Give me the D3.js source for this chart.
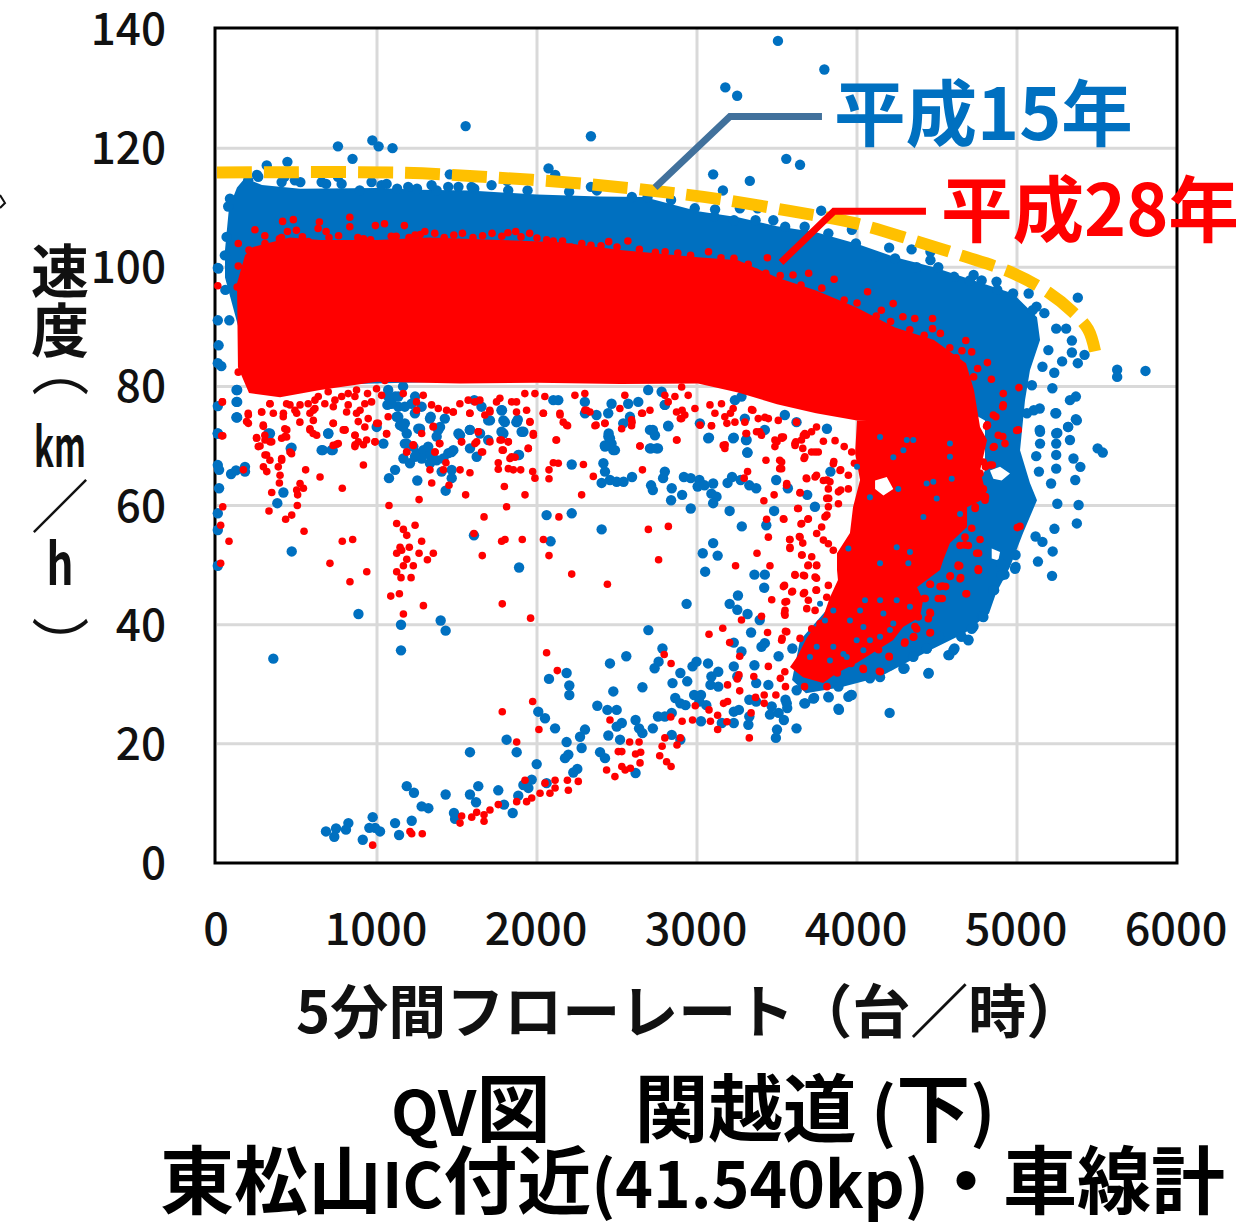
<!DOCTYPE html>
<html>
<head>
<meta charset="utf-8">
<script src="https://cdn.jsdelivr.net/npm/d3@7/dist/d3.min.js"></script>
<style>
  html, body { margin: 0; padding: 0; background: #fff; }
  svg { display: block; }
  text { font-family: "Noto Sans CJK JP", "Noto Sans", sans-serif; }
</style>
</head>
<body>
<div id="chart"></div>
<script>
  var xTicks = [0, 1000, 2000, 3000, 4000, 5000, 6000];
  var yTicks = [0, 20, 40, 60, 80, 100, 120, 140];
  var xTitle = "5分間フローレート（台／時）";
  var label15 = "平成15年";
  var label28 = "平成28年";

  // y title is set by hand, one piece under the other
  var yTitleParts = [
    {t: "速", x: 60, y: 293, size: 58, w: 700},
    {t: "度", x: 60, y: 352, size: 58, w: 700},
    {t: "（", x: 38, y: 368, size: 58, w: 400, turn: true},
    {t: "km", x: 60, y: 467, size: 55, w: 700, len: 52},
    {t: "／", x: 60, y: 528, size: 58, w: 400},
    {t: "h", x: 60, y: 585, size: 58, w: 700, len: 27},
    {t: "）", x: 38, y: 645, size: 58, w: 400, turn: true}
  ];

  // chart title runs, kanji set larger than the latin
  var titleLine1 = [["QV", 62], ["図", 74], ["　", 84], ["関越道", 74], [" (", 66], ["下", 74], [")", 66]];
  var titleLine2 = [["東松山", 74], ["IC", 62], ["付近", 74], ["(41.540kp)", 64], ["・車線計", 74]];

  // dashed limit curve (flow, speed)
  var limitCurve = [[0,115.9],[1112,115.9],[1606,115.3],[2344,113.9],[2806,112.6],[3150,111.4],[3569,109.5],[3988,107.4],[4356,104.5],[4650,102],[4975,99],[5194,95.8],[5344,92.6],[5444,89.6],[5488,85.9]];

  var callout15 = [[2738,113.4],[3206,125.3],[3781,125.3]];
  var callout28 = [[3525,100.8],[3856,109.4],[4431,109.4]];

  // solid part of the 2003 cloud, read as an outline
  var blueCloud = [[75,110],[125,113.4],[175,115],[281,113.8],[519,113.2],[1000,113.3],[1269,113],[1581,112.9],[2000,112.2],[2394,111.9],[2669,111.8],[3006,109.4],[3256,108.4],[3500,106.9],[3744,105.9],[3994,104],[4238,101.7],[4481,100],[4731,97.8],[4975,95.6],[5125,91.6],[5144,87.8],[5081,82.7],[5050,77.7],[5019,69.3],[5081,63.8],[5125,60.9],[5038,55.4],[4956,49.7],[4869,45.3],[4825,41.9],[4675,38.6],[4456,35.7],[4138,31.2],[3900,29.5],[3681,28.5],[3594,30.7],[3644,37.4],[4081,50.8],[4581,55.9],[4800,65.9],[4800,74.3],[4519,78.5],[3019,81],[1769,81],[519,80.2],[206,82.7],[100,93.3],[50,98.3],[50,102.9]];
  var blueHoleA = [[4831,65.9],[4894,66.5],[4956,65.4],[4904,64.2],[4852,64.5]];
  var blueHoleB = [[4842,52.8],[4894,52.2],[4883,50.8],[4842,51.1]];

  // solid parts of the 2016 cloud
  var redCloud = [[125,97.3],[175,102],[225,103.4],[456,105],[644,104.6],[1000,104.6],[1331,105],[1769,104.6],[2144,104.2],[2519,102.9],[3006,101.7],[3256,101.2],[3500,98.3],[3744,96.1],[3994,93.3],[4238,89.9],[4481,87.8],[4681,83.9],[4731,79.4],[4769,73.2],[4000,74.3],[3744,75.5],[3500,77],[3256,79],[3006,80.5],[2519,80.4],[2000,80.6],[1519,80.5],[1000,80.8],[644,79.4],[394,78.2],[200,78.9],[131,83.2]];
  var redCrescent = [[4000,74.3],[3988,68.8],[4019,64.3],[3975,59.7],[3956,55.4],[3875,52],[3875,49.2],[3881,47.5],[3831,44.6],[3788,41.3],[3688,37.9],[3625,34.6],[3581,32.9],[3663,31.2],[3788,30.2],[3875,31.9],[4000,33.6],[4125,35.7],[4225,37.4],[4288,39.6],[4394,41.3],[4413,44.1],[4375,46.3],[4519,49.2],[4538,50.8],[4581,53.7],[4688,56.4],[4688,59.7],[4813,61.4],[4769,65.9],[4813,71],[4769,73.2],[4688,74.3]];
  var redHole = [[4113,64.2],[4186,64.8],[4227,62.8],[4165,61.7],[4113,62.8]];

  var bluePoints = [
    [467,52.3],[352,34.3],[884,41.8],[1150,40],[1398,40.7],[1429,39],[1150,35.7],[1606,55],[2085,54],[2060,58.4],[2217,58.7],[2404,56],[1888,49.6],[2456,33.5],[2075,30.9],[2185,31.9],[2202,29.8],[2202,28.2],[2477,28.8],[2377,26.4],[2440,25.7],[2498,25.7],[2008,25.4],[2050,24.3],[2113,22.6],[2300,22.4],[2269,21.2],[2446,21.4],[2498,22.9],[2185,20.3],[1810,20.7],[1873,18.6],[1581,18.6],[2279,19.3],[2196,18.2],[2175,17.6],[1998,16.6],[2394,18.6],[2425,17.6],[2252,15.8],[2227,15.2],[1186,12.9],[1231,11.8],[1429,11.5],[1279,9.5],[1321,9.2],[1633,12.9],[1581,11.5],[1619,10.2],[1758,12.2],[1794,9.8],[1848,8.4],[1481,8.4],[1488,7.4],[1915,13.1],[1967,14],[1946,12.6],[1883,11.3],[2060,13.4],[681,5.3],[744,5.8],[733,4.4],[821,6.7],[806,5.6],[973,7.7],[952,5.9],[988,5.9],[1019,5.3],[911,3.9],[1113,6.7],[1138,4.7],[1217,7.1],
    [415,62.2],[377,60.4],[5,58.7],[5,55.9],[5,49.9],[13,62.9],[5,66.8],[13,66],[88,65.3],[119,65.9],[175,66.5],[175,65.7],[1252,64.2],[1429,62.5],
    [1165,67.9],[1206,67.1],[1248,68.8],[1290,69.3],[1331,68.5],[1373,67.6],[1415,67.9],[1446,68.8],[1477,69.3],[1227,69.9],[1186,70.4],[1279,67.9],[1331,67.1],[1113,66],[1075,64.6],[1404,65.7],[1467,66],[1467,64.6],[1144,73.5],[1186,72.1],[1269,72.9],[1373,71.6],[1394,73.2],[1519,71.8],[1581,72.7],[1644,72.1],[1706,74.3],[1790,72.1],[1873,74],[1915,72.4],[1790,74.3],[2217,66.9],[1888,68.5],[1623,68.2],[1581,69.6],[696,72.1],[661,69.3],[723,69.3],[461,69.6],[321,72.1],[123,74.8],[5,72.1],[1040,70.4],[998,73.2],[1123,74.9],[2466,70.4],[2425,69.9],[2477,69.3],[2415,67.1],[2425,65.7],[2456,64.3],[2404,63.8],[2498,64],[2446,71.6],
    [1114,78.3],[1163,80],[1238,78.3],[1065,76.9],[1163,73.2],[1336,74.9],[1509,72.1],[1608,77.7],[1781,76],[1880,74.4],[2102,77.7],[2300,75.5],[2448,72.1],
    [756,120.3],[971,121.3],[1010,120.3],[1097,120],[847,118.2],[1554,123.7],[2337,122],[311,117.1],[440,117.7],[756,115.2],[1455,115.6],[2072,116.6],[2114,115.5],[1813,114.5],[2337,113.5],
    [250,115.5],[422,115.2],[521,114.3],[682,114],[892,112.9],[1028,113.8],[1126,113.2],[1250,113.2],[1373,112.9],[1509,113.5],[1608,113.2],[1941,112.9],[2201,112.7],[2374,112.9],
    [5,99.9],[5,91.1],[10,86.9],[5,83.9],[27,83.4],[77,91.1],[52,96.2],[126,79.4],[126,77.4],[126,74.8],[5,76.7],[5,72.1],
    [3506,138],[3796,133.2],[3177,130.2],[3251,128.8],[3558,118.2],[3644,117.2],[3101,115.6],[3330,114.5],[3162,112.9],[3113,109.7],[3268,109.9],[3379,109.9],[3477,107.9],[3776,109.5],[3968,106.3],[4201,103.3],[4341,103],[4459,102.6],[4459,101.2],[4508,100],[4729,98.7],[4779,97.8],[4872,97.6],[5073,95.6],[5380,94.9],[5122,93.4],[5171,92.3],[5245,89.7],[5307,89.7],[5343,87.7],[5196,86.1],[5343,85.7],[5422,85.3],[5282,84.2],[5380,83.9],[5159,83.3],[5233,82.3],[5221,79.7],[5093,80.2],[5368,78.3],[5331,77.7],[5240,75.5],[5368,74.5],[5319,73.2],[5142,76.3],[5142,72.7],[5626,82.8],[5626,81.6],[5803,82.6],[5245,72.1],
    [5504,69.6],[5536,68.9],[5374,74.3],[5245,75.5],[5320,73.2],[5144,72.4],[5252,72.2],[5144,70.4],[5245,70.4],[5331,71],[5245,68.5],[5120,68.3],[5353,67.9],[5396,66.5],[5245,66.2],[5137,65.7],[5364,64.3],[5213,63.7],[5252,60.3],[5385,60.1],[5374,57],[5234,56.1],[5116,54.8],[5159,53.9],[5223,52.3],[5131,50.6],[5219,48.2],[4991,49.7],[4991,51.7],
    [4204,25.2],[4448,31.9],[3887,25.7],[3963,28.2],[3823,27.8],[3622,22.6],[3493,21],[3676,26.8],[3732,27.7],[4577,34.9],[4609,36],[4696,37.5],[4652,38],[4437,36],[4351,34.7],[4297,32.7],[4782,41.4],[4728,39.7],[4512,38],[4857,45.8],[4922,48.4],[4900,50.3],
    [2696,39.1],[2558,34.7],[2784,36],[2659,29.5],[2847,30.2],[2735,32.7],[2760,33.8],[2896,31.9],[2939,30.5],[2972,33],[2997,33.8],[3069,33.5],[3090,31.3],[3133,32.1],[3133,29.6],[3084,29.9],[3230,33],[3252,31.3],[3359,33.2],[3370,30.2],[3446,29.9],[3510,34.7],[3596,36],[3403,36.3],[3424,36.9],[3338,38.7],[3230,37],[3278,35.5],
    [2864,27.7],[2896,26.8],[2928,26.5],[2982,28.2],[3025,28.2],[3015,27.1],[3058,26.5],[2756,24.6],[2799,24.6],[2842,25.2],[2616,24],[2638,22.6],[2659,21.8],[2724,22.6],[3025,23.8],[3155,23.5],[3230,23.5],[3230,25.4],[3262,25.7],[3321,23.2],[3327,24.6],[3327,27.4],[3370,27.1],[3456,24.9],[3467,26.3],[3510,25.2],[3553,27.4],[3564,26],[3543,24],[3500,22.4],[2842,21.5],[2896,20.7],[2530,23.5],[2519,20.7],[2616,15.1],
    [2541,64],[2594,64.8],[2713,63.4],[2724,62.6],[2788,64.6],[2799,65.7],[2842,62.9],[2907,61.8],[2838,60.9],[2918,64.8],[2961,64.6],[3015,64.3],[3004,63.2],[3047,63.4],[3101,63.7],[3090,62],[3122,61.5],[3101,60.4],[2961,59.5],[3204,59.1],[3219,64.8],[3191,63.8],[3273,64.3],[3327,63.4],[3370,62.9],[3495,64.3],[3568,62.9],[3689,61.8],[3737,59.8],[3482,59.1],[3280,56.5],[3433,56.7],
    [3101,53.7],[3036,52],[3129,51.6],[3051,48.9],[3359,48.4],[3424,48.4],[3420,46.2],[3256,44.9],[3204,43.5],[3252,42.5],[3316,41.8],[3392,40.8],[2935,43.5],
    [2724,72.7],[2713,69.6],[2756,69.6],[2821,73.3],[3075,71.4],[3230,71.4],[3306,71],[3316,68.9],[2799,76.9],[3812,72.9],[3834,65.7],[5105,76],[5062,75.5]
  ];

  // blue dots on the outer rim of the cloud and under the main band
  var blueRim = [
    [4988,49.4],[4904,48.3],[4852,45.8],[4790,41.3],[4717,39.3],[4696,37.4],[4654,38],[4602,35.7],[4571,34.9],[4435,36],[4352,34.6],[4290,32.6],[4206,33.2],[4144,31.2],[4081,31],[3884,29.6],[3821,27.9],[3946,27.9],[3967,28.2],[4446,31.8],[3884,25.9],[3671,26.8],[3727,27.6],[3561,26.8],[3623,29],
    [122,79.4],[122,77.4],[122,74.8],[695,72.1],[654,69.3],[716,69.3],[466,69.7],[331,72.1],[1070,78.3],[1133,78.3],[1216,77.1],[1279,76.6],[1133,76.6],[1174,73.8],[1331,74.6],[1424,74.6],[1383,72.7],[1258,72.9],[1174,70.4],[1580,72.7],[1695,74.3],[1778,72.4],[1695,71],[1799,74],[1653,76.6],[1778,76],[1320,69.9],[1466,69],[1237,68.2],[1091,77.1],[1174,76.6],[1070,79.4],[1237,75.5],[1133,74.9],
    [1872,74],[1904,72.4],[2133,77.7],[2299,77.4],[2372,75.2],[2445,75.5],[2466,77.1],[2570,77.1],[2633,77.4],[2581,74.9],[2539,73.8],[2799,76.9],[2820,73.4],[2706,72.7],[2737,71.8],[3070,71.3],[3226,71.3],[3310,71],[3314,68.9],[3299,74.6],[3424,72.7],[3549,75.2],[3622,74],[3018,73.8],[2706,69.6],[2747,69.6],[2456,71.3],[2456,70.1],[2487,69.3],[2424,70.1],[1883,68.5],[3278,78.3],[3237,77.7],[2695,79.4],[2779,79.1],
    [195,114.6],[258,115.2],[404,114.3],[487,114.6],[654,114.3],[779,114],[966,114.3],[1060,114],[1195,113.5],[1341,113.8],[1445,113.5],[1591,113.5],[1716,113.8],[1820,112.9],[70,110.2],[60,105.1],[49,102],[8,99.8],[81,111.5],
    [2593,111.8],[2691,111.8],[2838,111.3],[2986,109.9],[3108,108.5],[3231,107.9],[3366,107.9],[3551,106.8],[3673,106.8],[3821,105.7],[3993,104],[4115,101.8],[4238,101.5],[4373,100],[4607,98.4],[4705,97.8],[4877,96.2],[4975,95.6],[5098,92.8]
  ];

  var redPoints = [
    [973,3],[1206,5.3],[1217,4.9],[1283,4.9],[1519,6.7],[1529,7.9],[1592,7.7],[1623,8.5],[1669,8.1],[1669,7],[1706,8.9],[1758,9.8],[1873,10.3],[1935,10.3],[1967,10.9],[2019,11.7],[2081,11.7],[2113,12.6],[2050,13.4],[1925,13.9],[2113,13.9],[2190,13.9],[2196,12.2],[2258,13.7],[1873,20.3],[2012,22.4],[1783,25.4],[1973,27.1],[2127,32.3],[2060,35.3],[2435,15.6],[2487,14.5],[2508,18.7],[2456,24],
    [1783,43.5],[1960,41.1],[1290,43.2],[1165,41.8],[1086,44.8],[1140,45.2],[831,47.2],[936,48.9],[706,50.3],[1123,48.9],[1150,47.9],[1213,47.9],[1165,49.9],[1227,49.9],[1186,51],[1315,50.9],[1352,52],[1263,52],[1123,52],[1154,52.5],[1202,53],[1144,53],[1279,54],[1186,55],[1165,56],[1123,57],[1238,56.7],[848,54.3],[783,54],[544,55.7],[429,57.7],[467,58.4],[325,59.1],[502,60],[23,50.3],[75,54],[23,56.7],[36,59.8],[1075,60],[1263,61],[783,62.9],[644,64.8],[554,66],
    [1669,58.1],[1810,59.8],[1606,55.3],[1779,54],[1800,54.3],[1908,54.3],[2040,54.3],[1658,51.6],[2075,51.6],[2217,48.5],[2440,46.8],[2137,58.1],[1925,61.8],[1554,61.8],[1796,63.2],[2279,61.8],[1342,63.8],[1450,63.4],[540,62.9],[498,62.6],[519,63.7],[390,63.8],[342,62.2],[504,61.8],[165,66],
    [196,75.2],[196,73.8],[290,73.3],[248,71.3],[300,71],[342,70.7],[269,70],[436,72.7],[425,71.6],[456,69],[300,68.5],[331,67.6],[404,67.6],[290,66.5],[311,65.7],[383,66.5],[394,65.1],[279,75.7],[415,75.5],[498,75.5],[602,74.3],[581,72.7],[623,71.8],[727,73.8],[800,72.7],[748,70.3],[863,71.8],[863,70.2],[915,70.2],[988,70.7],[915,66.8],[1060,72.1],[998,73.8],[602,76],[727,76.6],[894,76],[1186,69],[1227,70.2],[1279,72.1],[1363,69],[1390,70.4],[1431,67.2],[1331,66],[1415,66],[1519,66],[1581,65.5],[1529,70.7],[1352,73.3],[1633,72.4],[1660,69],[1623,70.7],[1706,70.7],[1769,71],[1821,70.7],[1783,69.3],[1758,67.2],[1758,66.1],[1831,67.9],[1863,68.1],[1821,66.2],[1852,66],[1898,66],[1946,69.6],[1977,72.1],[1973,65.7],[1987,64.6],[2075,66],[2075,64.5],[2102,67.2],[2133,67.1],[2290,66.9],[2352,64.9],[2119,71],[2185,73.5],[2144,75.2],[2310,76],[2369,73.5],[2425,73.8],[2040,75.5],[1956,74.1],[1706,75.7],[1581,75.5],[1477,75.7],[1248,76],[36,71.7],[456,76.9],[519,76.9],[331,77.1],
    [5,96.9],[34,77.4],[126,96.7],[133,100.2],[133,104],[200,102.9],[237,106.3],[299,105.3],[410,107.7],[477,108],[440,106],[403,105],[496,106.2],[534,105.1],[571,104.3],[640,107.6],[632,106.5],[682,106],[830,108.4],[830,106.8],[990,107],[1047,107.3],[1171,107],[1089,105.2],[916,104.8],[1238,105.4],[1299,106],[1361,105.7],[1534,105.7],[1719,105.7],[1818,105.8],[1867,106],[1954,105.7],[2102,104.4],[2213,103.4],[2337,103.7],[2448,104.3],
    [2568,104.4],[2801,102.6],[3072,102.6],[3231,101.5],[3440,101.6],[3366,99.2],[3600,98.7],[3698,99],[3857,98],[4066,95.9],[4226,93.9],[4152,92.8],[4287,91.7],[4361,91.4],[4472,91.4],[4472,89.7],[4521,88.9],[4680,87.7],[4656,86],[4717,85.8],[4815,84],[4754,83],[4729,81.6],[4840,81.2],[5012,79.8],[4914,78.8],[4914,76.9],[4852,75.2],[4815,73.5],
    [2696,56],[2821,56.5],[2760,50.9],[2644,70],[2875,71],[2659,66],[3241,49.9],[3375,52],[3456,49.9],[3446,54.7],[3435,57.7],[3543,57.7],[3418,60.8],[3482,61.8],[3629,59.5],[3693,57.7],[3650,56.9],[3295,64.6],[3316,65.7],[3431,67.6],[3517,67.6],[3517,66.2],[3560,63.4],[3644,62.2],[3579,54.3],[3581,53],[3640,54.8],[3661,53.7],[3657,51.7],[3693,49.9],[3747,49.9],[3547,46.6],[3597,45.6],[3612,48.4],[3672,48.2],[3747,47.8],[3747,45.8],[3672,45.4],[3467,44.2],[3560,43.9],[3547,41.9],[3403,41.4],[3278,40.8],[3161,39.4],[3075,38.4],[3204,37],[3441,38.7],[3532,37.7],[3553,38.9],[3267,34.7],[3446,33],[3355,31.3],[3262,31.6],[3252,30.9],[3191,29.9],[3267,28.9],[2795,35],[2838,33.5],[3549,32.1],[3521,31],[3553,29.6],[3493,28.2],[3366,27.8],[3420,28.2],[3420,26.8],[3338,25.2],[3166,26.8],[3191,27.1],[2989,26.4],[3075,25.7],[3129,24.8],[3084,23.8],[3187,23.7],[2972,24],[2907,23.8],[2836,24.5],[3129,22.4],[3327,21],[2799,21],[2896,21],[2782,19.6],[2875,19.8],[2767,18],[2810,17],[2838,16.2],[2638,20.3],[2579,20.3],[2648,18.6],[2616,18.3],[2644,16.8],[2584,15.9],[2530,18.7],[2530,16.2],[2551,15.6],
    [3176,70.2],[3306,72.1],[3392,72.4],[3500,70.7],[3532,71.3],[3618,70.7],[3683,71.8],[3758,69],[3855,67.4],[3898,66],[3812,64.3],[3747,65.1],[3683,64.6],[3823,61.2],[3812,58.4],[3898,62.6],[3984,67.1],[3920,69.9],[3661,69.6],[2659,75.5],[2594,74],[2907,76],[2896,74.6],[3019,73.5],[3090,73.4],[3209,75.5],[3187,73.8],[3349,76],[3446,74.6],[3622,74],[3747,73.2],
    [4803,66.5],[4782,62.6],[4803,61.5],[4739,59.8],[4717,56.2],[4674,53.4],[4760,52],[4642,49.9],[4760,49.2],[4583,48.2],[4648,47.9],[4534,46.5],[4685,45.2],[4523,44.4],[4426,44.4],[4459,46.8],[4459,41.9],[4362,39.7],[4459,38.7],[4355,38],[4297,36.9],[4200,34.7],[4146,32.1],[4038,32.7],[3963,33.5],[3877,31.9],[3812,29.6],[3672,29.6],[4135,35.8],[5019,56.5],[4846,66.8],[4868,74.9],[4911,71.6],[4857,69.9],[5008,72.7],[4911,76.6],[4814,73.5]
  ];

  // red dots at the crescent's edges, the band's lower fringe and its top
  var redFringe = [
    [3540,71.5],[3613,70.1],[3665,71.8],[3738,69],[3669,67.9],[3790,70.8],[3863,70.9],[3852,67],[3967,69],[3529,67.3],[3529,66.2],[3894,65.9],[3946,65.1],[3686,64.5],[3738,64.8],[3790,64.2],[3831,64],[3821,62.8],[3884,62.3],[3946,62.8],[3644,62.1],[3561,63.7],[3811,61.2],[3821,59.8],[3884,60.3],[3634,59.5],[3800,58.1],[3696,57.8],[3654,57],[3540,57.8],[3779,56.4],[3748,55.3],[3644,54.7],[3581,54.3],[3581,52.8],[3654,51.7],[3717,51.4],[3696,50],[3748,50],[3790,54.2],[3852,52.5],[3821,53.6],
    [3613,48.3],[3665,48.3],[3738,48],[3540,46.4],[3592,45.5],[3665,45.2],[3744,45.8],[3811,44.6],[3821,46.6],[3696,44.1],[3550,43.8],[3550,42.4],[3550,41.6],[3686,42.7],[3738,42.4],[3769,40.2],[3717,39.3],[3561,38.8],[3529,37.4],[3644,37.7],
    [4633,49.8],[4758,49.1],[4581,48.1],[4644,47.7],[4456,46.8],[4519,46.4],[4554,46.4],[4681,45.2],[4419,44.4],[4508,44.4],[4533,44.4],[4456,42.1],[4446,41],[4383,41.3],[4321,41.3],[4456,38.6],[4352,37.9],[4300,37.1],[4202,34.6],[4140,32.2],[4040,32.5],[4373,39.3],
    [4810,73.3],[4883,71.8],[4925,70.4],[4852,69.8],[4998,72.6],[5002,56.3],[4633,50],[4748,52],[4758,49.4],[4696,53.3],[4644,53.3],[4769,54.3],[4675,54.7],[4790,62.8],[4800,60.9],[4738,59.5],[4717,62.3],[4769,65.4],[4790,67.3],[4831,66.8],[4758,69],[4748,70.4],[4623,71.8],
    [133,82.4],[33,77.4],[195,75.5],[185,74.1],[279,75.7],[352,75.5],[289,73.5],[414,74.9],[487,76],[518,74],[331,77.1],[435,77.1],[581,75.5],[612,76.3],[674,77.1],[737,77.7],[779,78.3],[820,76.9],[810,75.7],[726,73.8],[799,72.7],[872,75.5],[883,74.1],[945,74.6],[1008,73.8],[924,73.2],[1070,74.9],[966,77.4],[1029,78.5],[997,79.6],[941,78.8],[872,79.4],[1164,78.8],[1247,77.4],[1289,78.5],[1341,76.9],[1383,76.3],[1435,76],[1476,75.7],[1580,75.5],[1518,77.1],[1570,77.7],[1612,77.4],[1643,77.7],[1674,75.2],[1747,77.4],[1768,78],[1705,76],[1841,77.4],[29,71.7],[247,71.4],[299,71.8],[331,70.7],[258,69.9],[424,72.9],[435,71.5],[404,71.3],[581,72.9],[601,72.1],[789,72.7],[862,71.8],[883,70.7],[935,71],[987,70.7],[1060,72],[758,70.4],[726,70.1],[862,69.9],[466,68.7],[310,68.5],[1351,73.2],[1393,70.4],[1226,70.1],[1185,69],[1362,69],[1528,70.7],[1633,72.4],[1612,70.4],[1653,69],[1778,71],[1820,70.7],[1789,69.3],[1841,68.2],[404,67.9],
    [570,77.1],[633,78.3],[695,79.1],[862,78.3],[924,77.1],[612,77.7],[820,78.8],[1049,81],[924,81.6],
    [1872,77.4],[1872,75.7],[1935,76],[1956,74],[1977,71.8],[1945,69.6],[2039,75.5],[2122,71],[2143,75.5],[2164,74],[2191,73.4],[2299,76],[2331,75.7],[2362,73.4],[2424,73.8],[2518,76.3],[2529,72.9],[2591,74.4],[2591,73.4],[2654,75.5],[2706,76],[2643,70],[2872,71],[2872,75.7],[2904,74.6],[2924,75.2],[2820,77.4],[2862,78.3],[2945,78.5],[2987,76.3],[3081,76.9],[3091,73.4],[3112,75.5],[3153,77.1],[3174,74.9],[3226,76.3],[3237,74],[3299,74],[3310,72.1],[3383,74.6],[3424,74.8],[3508,74.3],[3372,72.4],[3403,71.8],[3341,76.1],[3487,71],[3528,71.5],[3487,69.9],[3612,70.4],[3653,71],[3674,72.1],[3716,72.4],[3716,69],[3674,68.2],[3164,70.1],[3174,69.6],[1987,78.8],[1924,78.8],[2049,78.3],[2237,78.5],[2299,78.8],[2549,78.5],[2799,78.5],[2904,79.9],
    [300,104],[390,104.8],[520,104],[700,105],[760,105.3],[880,105],[960,104.6],[1120,105.2],[1200,105],[1270,105.5],[1420,105],[1480,105.4],[1600,105],[1660,105.3],[1780,105.2],[1900,105.1],[2000,104.9],[2060,104.6],[2160,104.4],[2280,104],[2400,103.6],[2500,103.4],[2640,103],[2740,102.5],[2880,102.4],[2960,102],[3150,101.6],[3320,100.5],[3430,99],[3520,98.6],[3650,97],[3780,96.5],[3920,94.5],[4000,94],[4120,91.8],[4210,90.9],[4330,89.5],[4420,88.6],[4580,86.5],[4620,84.8]
  ];

  // where blue shows through the red crescent
  var blueGaps = [[4144,71.5],[4311,71],[4581,68.2],[4592,64.5],[4477,64],[4498,61.2],[4644,58.6],[4415,58.1],[4248,53],[4331,52.2],[4081,61.4],[4000,66.5],[4227,68.1],[3946,52.8],[4144,50.3],[4321,50.3],[3769,43.5],[3800,40.7],[4040,39.6],[4050,44.1],[4165,41.9],[4227,40.2],[3852,36.3],[4081,37.4],[3748,36.3],[3936,34.6],[3852,42.4],[3956,40.7],[4019,42.4],[4144,44.1],[3998,37.4],[3915,35.1],[4144,38],[4206,39.1],[3706,34.6],[3831,34],[4040,35.7],[4331,43],[4248,44.1],[4290,69.3],[4352,71],[4258,62.8],[4581,70.4],[4435,63.7]];

  var width = 1236, height = 1231;
  var svg = d3.select("#chart").append("svg")
    .attr("width", width)
    .attr("height", height);

  var x = d3.scaleLinear().domain([0, 6000]).range([217, 1177]);
  var y = d3.scaleLinear().domain([0, 140]).range([863, 29]);

  var path = d3.line()
    .x(function (d) { return x(d[0]); })
    .y(function (d) { return y(d[1]); });

  function dots(data, r, color) {
    svg.append("g").selectAll("circle").data(data).enter().append("circle")
      .attr("cx", function (d) { return x(d[0]); })
      .attr("cy", function (d) { return y(d[1]); })
      .attr("r", r).attr("fill", color);
  }

  // the cropped mark at the left edge of the source image
  svg.append("path").attr("d", "M0,195L5,203L0,208")
    .attr("fill", "none").attr("stroke", "#111").attr("stroke-width", 2);

  // grid
  svg.append("g").selectAll("line").data(xTicks.slice(1, -1)).enter().append("line")
    .attr("x1", function (d) { return x(d); }).attr("x2", function (d) { return x(d); })
    .attr("y1", y(0)).attr("y2", y(140))
    .attr("stroke", "#D9D9D9").attr("stroke-width", 3);
  svg.append("g").selectAll("line").data(yTicks.slice(1, -1)).enter().append("line")
    .attr("x1", x(0)).attr("x2", x(6000))
    .attr("y1", function (d) { return y(d); }).attr("y2", function (d) { return y(d); })
    .attr("stroke", "#D9D9D9").attr("stroke-width", 3);

  // frame
  svg.append("rect")
    .attr("x", x(0) - 2).attr("y", y(140) - 1)
    .attr("width", x(6000) - x(0) + 2).attr("height", y(0) - y(140) + 1)
    .attr("fill", "none").attr("stroke", "#000").attr("stroke-width", 3);

  // 2003 series
  svg.append("path")
    .attr("d", path(blueCloud) + "Z" + path(blueHoleA) + "Z" + path(blueHoleB) + "Z")
    .attr("fill-rule", "evenodd").attr("fill", "#0070C0");
  dots(bluePoints, 5.2, "#0070C0");
  dots(blueRim, 5.2, "#0070C0");

  // 2016 series
  svg.append("path").attr("d", path(redCloud) + "Z").attr("fill", "#FF0000");
  svg.append("path")
    .attr("d", path(redCrescent) + "Z" + path(redHole) + "Z")
    .attr("fill-rule", "evenodd").attr("fill", "#FF0000");
  dots(redPoints, 3.8, "#FF0000");
  dots(redFringe, 3.8, "#FF0000");
  dots(blueGaps, 3, "#0070C0");

  // limit curve and callouts
  svg.append("path")
    .attr("d", path.curve(d3.curveCatmullRom)(limitCurve))
    .attr("fill", "none").attr("stroke", "#FFC000")
    .attr("stroke-width", 12).attr("stroke-dasharray", "35,12");
  path.curve(d3.curveLinear);

  svg.append("path").attr("d", path(callout15))
    .attr("fill", "none").attr("stroke", "#41719C").attr("stroke-width", 7);
  svg.append("path").attr("d", path(callout28))
    .attr("fill", "none").attr("stroke", "#FF0000").attr("stroke-width", 7);

  svg.append("text").text(label15)
    .attr("x", 834).attr("y", 140)
    .attr("font-size", 71.5).attr("font-weight", 700).attr("fill", "#0070C0");
  svg.append("text").text(label28)
    .attr("x", 941).attr("y", 236)
    .attr("font-size", 71.5).attr("font-weight", 700).attr("fill", "#FF0000");

  // tick labels
  svg.append("g").selectAll("text").data(xTicks).enter().append("text")
    .attr("x", function (d) { return x(d) - 1; })
    .attr("y", 945)
    .attr("text-anchor", "middle")
    .attr("font-size", 45).attr("font-weight", 500).attr("fill", "#111")
    .text(function (d) { return d; });
  svg.append("g").selectAll("text").data(yTicks).enter().append("text")
    .attr("x", 166)
    .attr("y", function (d) { return y(d) + 16; })
    .attr("text-anchor", "end")
    .attr("font-size", 44).attr("font-weight", 500).attr("fill", "#111")
    .text(function (d) { return d; });

  // axis titles
  svg.append("text").text(xTitle)
    .attr("x", 296).attr("y", 1033)
    .attr("font-size", 58).attr("font-weight", 700).attr("fill", "#111");

  yTitleParts.forEach(function (p) {
    var t = svg.append("text").text(p.t)
      .attr("text-anchor", "middle")
      .attr("font-size", p.size).attr("font-weight", p.w).attr("fill", "#111")
      .attr("transform", "translate(" + p.x + "," + p.y + ")" + (p.turn ? " rotate(90)" : ""));
    if (p.len) {
      t.attr("textLength", p.len).attr("lengthAdjust", "spacingAndGlyphs");
    }
  });

  // chart title
  function titleLine(runs, left, base) {
    var t = svg.append("text")
      .attr("x", left).attr("y", base)
      .attr("font-weight", 700).attr("fill", "#000")
      .attr("xml:space", "preserve").style("white-space", "pre");
    runs.forEach(function (r) {
      t.append("tspan").attr("font-size", r[1]).text(r[0]);
    });
  }
  titleLine(titleLine1, 391, 1136);
  titleLine(titleLine2, 160, 1208);
</script>
</body>
</html>
